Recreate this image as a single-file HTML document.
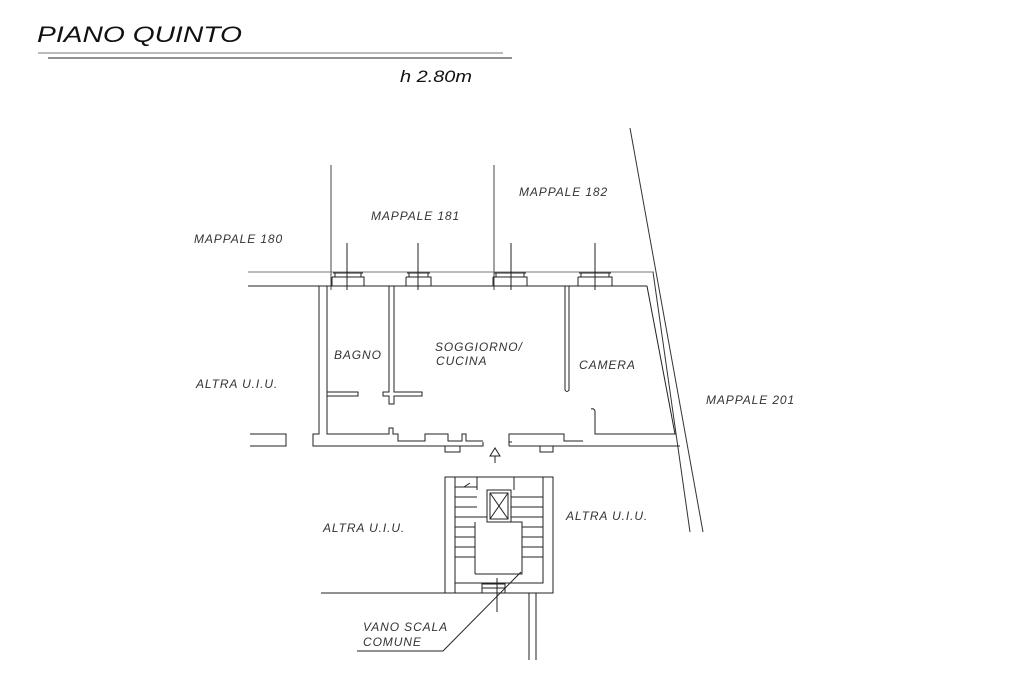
<!DOCTYPE html>
<html><head><meta charset="utf-8"><style>
html,body{margin:0;padding:0;background:#fff;}
svg{display:block;}
text{font-family:"Liberation Sans",sans-serif;font-style:italic;fill:#333;letter-spacing:0.9px;}
</style></head><body>
<svg width="1024" height="683" viewBox="0 0 1024 683" xmlns="http://www.w3.org/2000/svg">
<g stroke="#222" fill="none" stroke-width="1">
<line x1="38" y1="53" x2="503" y2="53" stroke="#777"/>
<line x1="48" y1="58" x2="512" y2="58"/>
<line x1="331" y1="165" x2="331" y2="290" stroke="#444"/>
<line x1="494" y1="165" x2="494" y2="290" stroke="#444"/>
<line x1="630" y1="128" x2="703" y2="532" stroke="#333"/>
<line x1="653" y1="272" x2="690" y2="532" stroke="#333"/>
<line x1="248" y1="272" x2="654" y2="272" stroke="#777"/>
<g>
<path d="M333 273 h30 M335 273 v4 h26 v-4 M332 277 h32 v9 M332 277 v9"/>
<path d="M407 273 h23 M409 273 v4 h19 v-4 M406 277 h25 v9 M406 277 v9"/>
<path d="M494 273 h32 M496 273 v4 h28 v-4 M493 277 h34 v9 M493 277 v9"/>
<path d="M579 273 h32 M581 273 v4 h28 v-4 M578 277 h34 v9 M578 277 v9"/>
<line x1="347" y1="243" x2="347" y2="290"/>
<line x1="418" y1="243" x2="418" y2="290"/>
<line x1="511" y1="243" x2="511" y2="290"/>
<line x1="595" y1="243" x2="595" y2="290"/>
</g>
<line x1="248" y1="286" x2="647" y2="286"/>
<path d="M319 286 V434 H313 V446 H483 V442"/>
<path d="M327 286 V434 H389 V428 H393 V434 H398 V441 H425 V434 H448 V441 H462 V434 H466 V441 H483"/>
<path d="M445 446 V452 H460 V446"/>
<path d="M250 434 H286 V446 H250"/>
<path d="M647 286 L675 434 H595 V411 Q594 408 591 409"/>
<path d="M509 442 V434 H564 V441 H583"/>
<path d="M509 446 H680"/>
<path d="M509 442 H512 M509 446 V442"/>
<path d="M540 446 V452 H553 V446"/>
<path d="M327 392 H358 V396 H327"/>
<path d="M389 286 V392 H383 V396 H389 V404 H394 V396 H422 V392 H394 V286"/>
<path d="M565 286 V390 Q567 393 569 390 V286"/>
<path d="M495 448 L490 456 H500 Z M495 456 V463"/>
<rect x="445" y="477" width="108" height="116"/>
<path d="M455 593 V477 H477 V490 M455 583 H543 V477 H514 V490"/>
<path d="M475 574 H522 V522 H511 M475 574 V522"/>
<path d="M455 487 H477 M455 497 H477 M455 507 H477 M455 517 H487 M455 527 H475 M455 537 H475 M455 547 H475 M455 557 H475"/>
<path d="M511 497 H543 M511 507 H543 M511 517 H543 M522 527 H543 M522 537 H543 M522 547 H543 M522 557 H543"/>
<path d="M464 487 L470 483"/>
<rect x="487" y="490" width="24" height="32"/>
<rect x="490" y="493" width="18" height="26"/>
<path d="M490 493 L508 519 M508 493 L490 519"/>
<line x1="321" y1="593" x2="553" y2="593"/>
<rect x="482" y="584" width="23" height="9"/>
<path d="M482 588 H505 M497 578 V612"/>
<line x1="529" y1="593" x2="529" y2="660"/>
<line x1="536" y1="593" x2="536" y2="660"/>
<path d="M521 572 L443 651 H357"/>
</g>
<g font-size="12">
<text x="37" y="42" font-size="22" textLength="205" lengthAdjust="spacingAndGlyphs" style="letter-spacing:0;fill:#111">PIANO QUINTO</text>
<text x="400" y="82" font-size="17" textLength="72" lengthAdjust="spacingAndGlyphs" style="letter-spacing:0;fill:#111">h 2.80m</text>
<text x="194" y="243">MAPPALE 180</text>
<text x="371" y="220">MAPPALE 181</text>
<text x="519" y="196">MAPPALE 182</text>
<text x="706" y="404">MAPPALE 201</text>
<text x="196" y="388">ALTRA U.I.U.</text>
<text x="334" y="359">BAGNO</text>
<text x="435" y="351">SOGGIORNO/</text>
<text x="436" y="365">CUCINA</text>
<text x="579" y="369">CAMERA</text>
<text x="323" y="532">ALTRA U.I.U.</text>
<text x="566" y="520">ALTRA U.I.U.</text>
<text x="363" y="631">VANO SCALA</text>
<text x="363" y="646">COMUNE</text>
</g>
</svg>
</body></html>
